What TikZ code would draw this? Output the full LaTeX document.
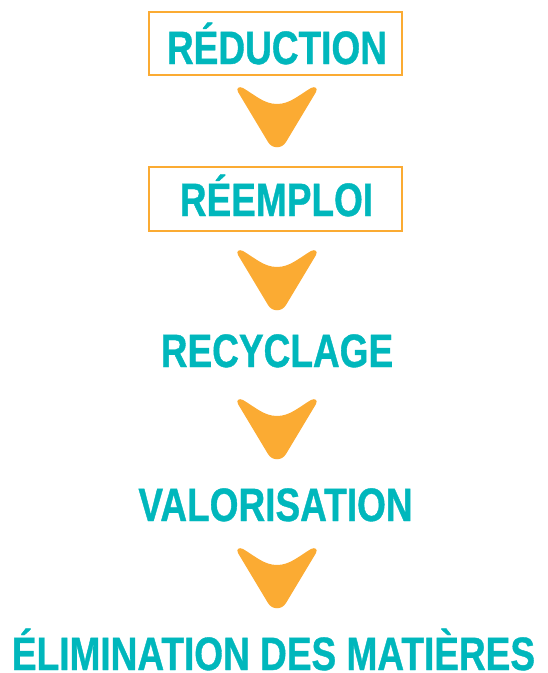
\documentclass[tikz,border=0pt]{standalone}
\usepackage{fontspec}
\setmainfont[FakeStretch=0.79, BoldFeatures={FakeStretch=0.79, FakeBold=0.8}]{Liberation Sans}
\definecolor{turquoise}{RGB}{0,183,188}
\definecolor{orangeclair}{RGB}{251,171,51}
\tikzset{
  etape/.style={anchor=base, inner sep=0, text=turquoise, font=\fontsize{40}{44}\selectfont\bfseries},
  cadre/.style={draw=orangeclair, line width=1.7pt},
  fleche/.pic={
    \fill[orangeclair] (-39,5) .. controls (-41,1) and (-38,-1) .. (-34,1)
      .. controls (-22,8) and (-13,17) .. (0,17)
      .. controls (13,17) and (22,8) .. (34,1)
      .. controls (38,-1) and (41,1) .. (39,5)
      -- (9,55) .. controls (5,62) and (-5,62) .. (-9,55) -- cycle;
  }
}
\begin{document}
\begin{tikzpicture}[x=0.03cm, y=-0.03cm]
\useasboundingbox (0,0) rectangle (547,673);
% cadres
\draw[cadre] (149,12) rectangle (402,75);
\draw[cadre] (149,167) rectangle (402,231);
% etapes
\node[etape] (reduction) at (277,64) {RÉDUCTION};
\node[etape] (reemploi) at (276.5,216) {RÉEMPLOI};
\node[etape] (recyclage) at (277,367) {RECYCLAGE};
\node[etape] (valorisation) at (275.5,521) {VALORISATION};
\node[etape] (elimination) at (273.5,670) {ÉLIMINATION DES MATIÈRES};
% fleches
\pic at (277,87) {fleche};
\pic at (277,250) {fleche};
\pic at (277,399) {fleche};
\pic at (277,548) {fleche};
\end{tikzpicture}
\end{document}
